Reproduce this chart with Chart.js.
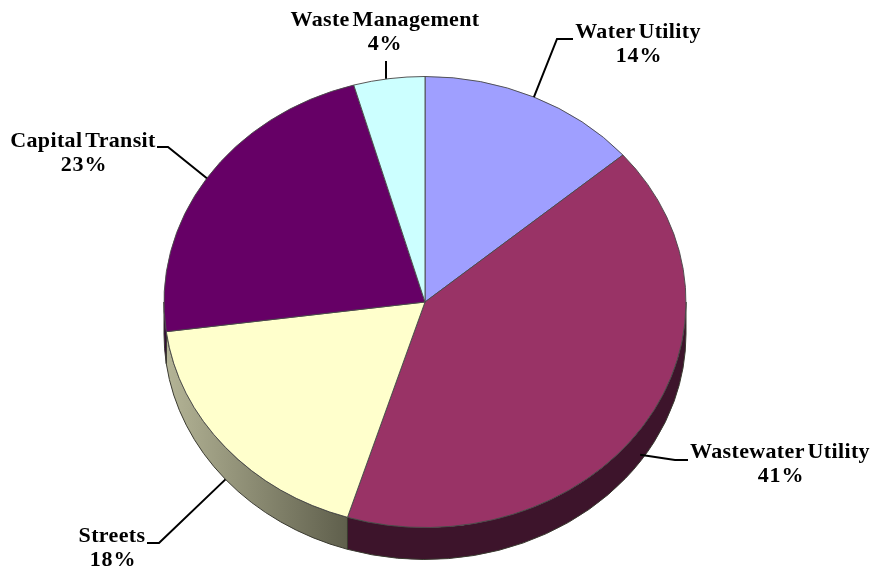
<!DOCTYPE html>
<html>
<head>
<meta charset="utf-8">
<style>
  html, body { margin: 0; padding: 0; background: #fff; }
  #wrap { width: 871px; height: 569px; }
  /* the original is a slightly soft upscaled image */
  #pie { filter: blur(0.5px); }
</style>
<script src="https://cdn.jsdelivr.net/npm/chart.js@4"></script>
</head>
<body>
<div id="wrap"><canvas id="pie"></canvas></div>
<script>
const categories = ["Water Utility", "Wastewater Utility", "Streets", "Capital Transit", "Waste Management"];
const shares = [13.7, 41.1, 18.1, 22.7, 4.4];
const sliceColors = ["#9f9fff", "#993366", "#ffffcc", "#660066", "#ccffff"];
const wallColors = ["#4f4f80", "#3d142b", "#808066", "#33003a", "#667f7f"];

// label centre x, first baseline y, then the bend and end of each leader line
const labelX = [638, 780, 112, 83, 385];
const labelY = [38, 458, 542, 147, 26];
const percentX = [639, 781, 113, 84, 385];
const leaderNudge = [[0, 0], [-3, -3], [0, 0], [0, 0], [-3, 0]];
const leaderBend = [[557, 39], [675, 460], [159, 543], [168, 147], [386, 61]];
const leaderEnd = [[573, 39], [688, 460], [147, 543], [157, 147], [386, 61]];

const squash = 0.864; // pie is tilted, so y is flattened
const depth = 32;

const tiltPlugin = {
  id: "tilt",
  beforeDatasetDraw(chart) {
    const ctx = chart.ctx;
    const arcs = chart.getDatasetMeta(0).data;
    const { x: cx, y: cy, outerRadius: r } = arcs[0].getProps(["x", "y", "outerRadius"], true);

    // side wall, only the part below the middle of the ellipse shows
    arcs.forEach((arc, i) => {
      const start = Math.max(arc.startAngle, 0);
      const end = Math.min(arc.endAngle, Math.PI);
      if (end <= start) return;
      let fill = wallColors[i];
      if (i === 2) {
        const g = ctx.createLinearGradient(cx + r * Math.cos(end), 0, cx + r * Math.cos(start), 0);
        g.addColorStop(0, "#b4b496");
        g.addColorStop(1, "#5f5f4c");
        fill = g;
      }
      ctx.beginPath();
      ctx.ellipse(cx, cy, r, r * squash, 0, start, end);
      ctx.lineTo(cx + r * Math.cos(end), cy + r * squash * Math.sin(end) + depth);
      ctx.ellipse(cx, cy + depth, r, r * squash, 0, end, start, true);
      ctx.closePath();
      ctx.fillStyle = fill;
      ctx.fill();
      ctx.strokeStyle = "#3a3a30";
      ctx.lineWidth = 1;
      ctx.stroke();
    });

    ctx.save();
    ctx.translate(0, cy);
    ctx.scale(1, squash);
    ctx.translate(0, -cy);
  },
  afterDatasetDraw(chart) {
    chart.ctx.restore();
  },
  afterDraw(chart) {
    const ctx = chart.ctx;
    const arcs = chart.getDatasetMeta(0).data;
    const total = shares.reduce((a, b) => a + b, 0);
    ctx.save();
    arcs.forEach((arc, i) => {
      const mid = (arc.startAngle + arc.endAngle) / 2;
      const sx = arc.x + arc.outerRadius * Math.cos(mid) + leaderNudge[i][0];
      let sy = arc.y + arc.outerRadius * squash * Math.sin(mid) + leaderNudge[i][1];
      if (Math.sin(mid) > 0) sy += depth;

      ctx.beginPath();
      ctx.moveTo(sx, sy);
      ctx.lineTo(leaderBend[i][0], leaderBend[i][1]);
      ctx.lineTo(leaderEnd[i][0], leaderEnd[i][1]);
      ctx.strokeStyle = "#000";
      ctx.lineWidth = 2;
      ctx.stroke();

      ctx.fillStyle = "#000";
      ctx.font = "bold 22px 'Liberation Serif'";
      ctx.textAlign = "center";
      ctx.textBaseline = "alphabetic";
      ctx.letterSpacing = "0.35px";
      ctx.wordSpacing = "-3px";
      ctx.fillText(categories[i], labelX[i], labelY[i]);
      ctx.letterSpacing = "0.8px";
      ctx.fillText(Math.round(shares[i] / total * 100) + "%", percentX[i], labelY[i] + 24);
    });
    ctx.restore();
  }
};

new Chart(document.getElementById("pie"), {
  type: "pie",
  data: {
    labels: categories,
    datasets: [
      {
        data: shares,
        backgroundColor: sliceColors,
        borderColor: "#4a4a4a",
        borderWidth: 1,
        clip: false,
      },
    ],
  },
  options: {
    responsive: true,
    maintainAspectRatio: false,
    animation: false,
    layout: { padding: { left: 163.5, right: 184.5, top: 40.5, bottom: 5.5 } },
    plugins: {
      legend: { display: false },
      tooltip: { enabled: false },
    },
  },
  plugins: [tiltPlugin],
});
</script>
</body>
</html>
